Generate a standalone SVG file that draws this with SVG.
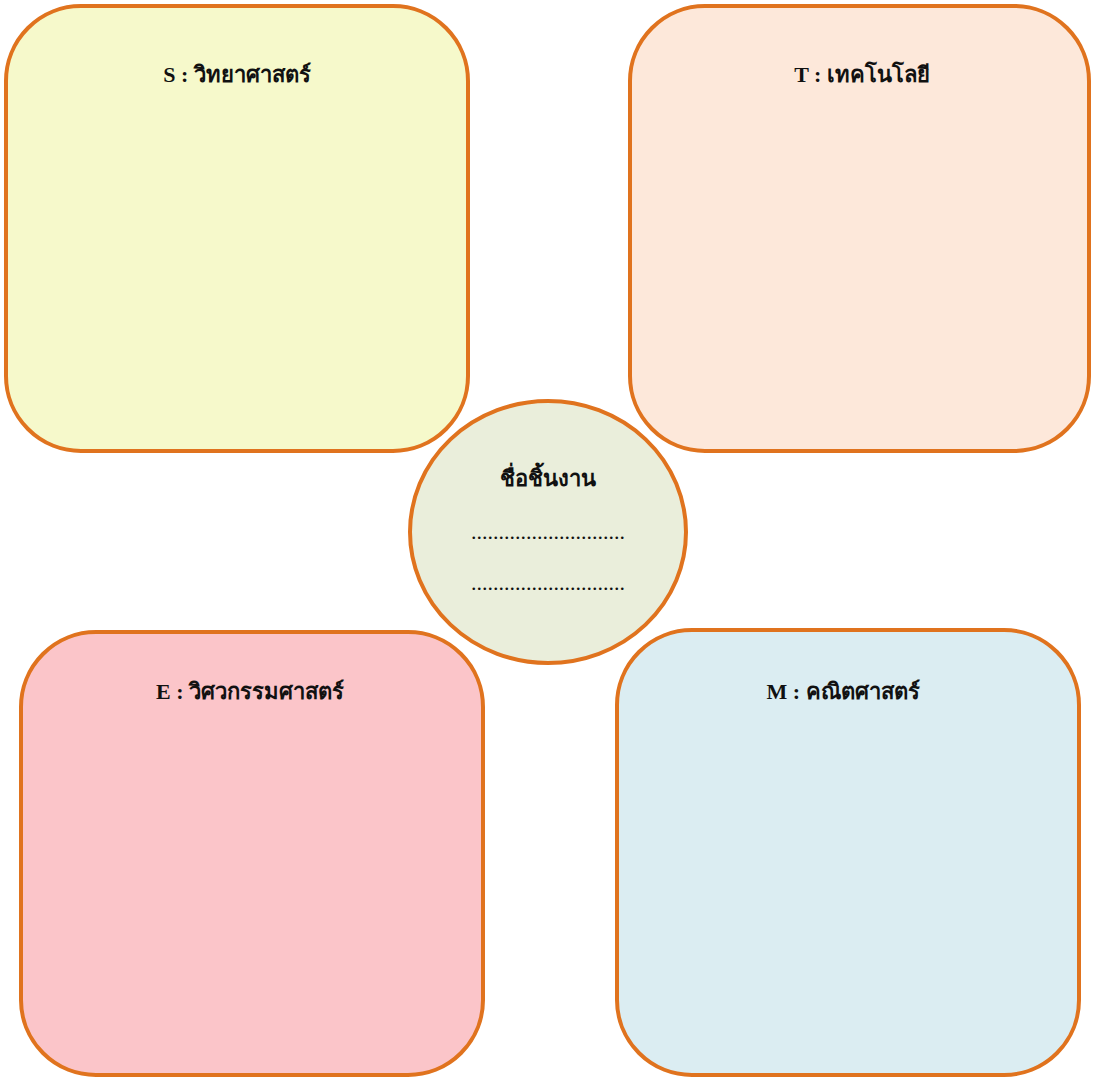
<svg xmlns="http://www.w3.org/2000/svg" width="1093" height="1078" viewBox="0 0 1093 1078">
<style>
.box{stroke:#E0731E;stroke-width:4}
.t{font-family:"Liberation Serif","DejaVu Serif","Noto Sans",serif;font-weight:bold;font-size:22px;fill:#111;text-anchor:middle}
.d{font-family:"Liberation Serif",serif;font-size:22px;fill:#111;text-anchor:middle}
</style>
<rect width="1093" height="1078" fill="#fff"/>
<g id="node-s"><rect class="box" x="6" y="6" width="462" height="445" rx="75" fill="#F6F9CB"/><text class="t" x="237" y="82">S : วิทยาศาสตร์</text></g>
<g id="node-t"><rect class="box" x="630" y="6" width="459" height="445" rx="75" fill="#FDE8DA"/><text class="t" x="862" y="82">T : เทคโนโลยี</text></g>
<g id="node-e"><rect class="box" x="21" y="632" width="462" height="443" rx="75" fill="#FBC5C9"/><text class="t" x="250" y="699">E : วิศวกรรมศาสตร์</text></g>
<g id="node-m"><rect class="box" x="617" y="630" width="462" height="445" rx="75" fill="#DBEDF2"/><text class="t" x="843" y="699">M : คณิตศาสตร์</text></g>
<g id="node-center"><ellipse class="box" cx="548" cy="532" rx="138" ry="131" fill="#EAEEDB"/>
<text class="t" x="548" y="486">ชื่อชิ้นงาน</text>
<text class="d" x="548" y="539">............................</text>
<text class="d" x="548" y="590">............................</text></g>
<g id="connectors"/>
</svg>
